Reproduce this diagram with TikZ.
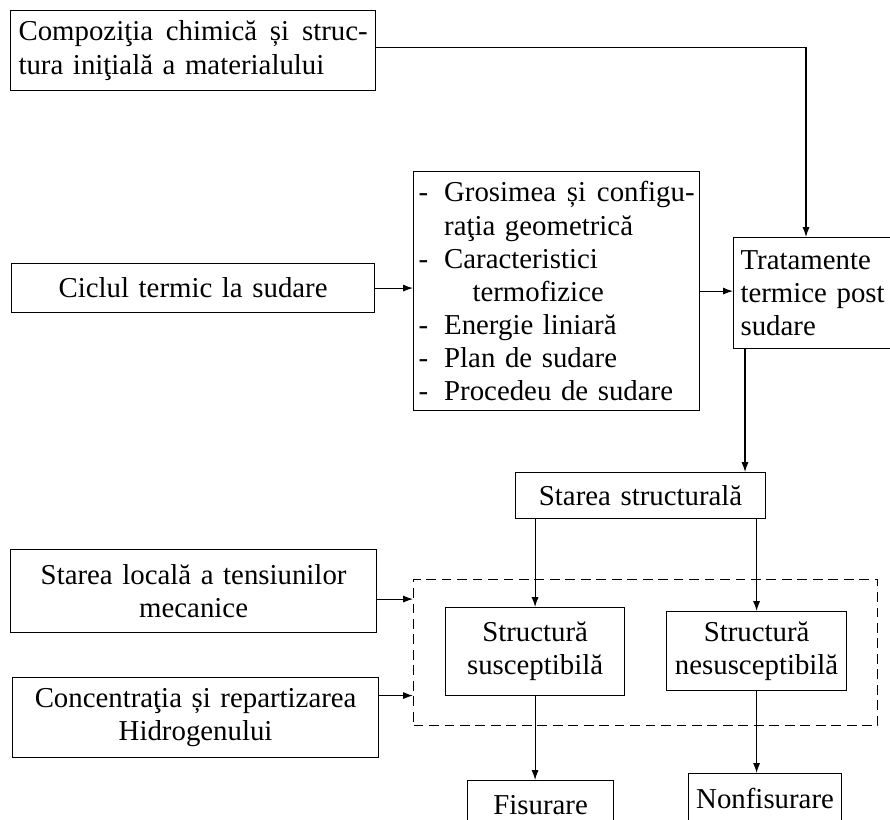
\documentclass[tikz,border=0pt]{standalone}
\usepackage{fontspec}
\setmainfont{Liberation Serif}
\usepackage{tikz}
\usetikzlibrary{positioning, arrows.meta}

\newcommand{\boxfont}{\fontsize{20.5}{23.5}\selectfont\spaceskip=0.6em plus 0.3em minus 0.1em}
\newcommand{\liniuta}{-\hspace{0.4cm}}

\begin{document}
\begin{tikzpicture}[
            x=0.025cm, y=-0.025cm,
            box/.style={draw, line width=0.8pt, rectangle, anchor=north west, inner xsep=0.15cm, inner ysep=0.1cm, font=\boxfont},
            arr/.style={-{Latex[length=7pt, width=5pt]}, line width=0.8pt},
        ]
            \useasboundingbox (0,0) rectangle (890,820);
            \clip (0,0) rectangle (890,820);
            % factori de intrare
            \node[box, inner xsep=0.2cm, text width=8.725cm, minimum height=2cm, align=left] (compozitie) at (10,10)
                {Compoziţia\hfill chimică\hfill și\hfill struc-\\ tura iniţială a materialului};
            \node[box, text width=8.775cm, minimum height=1.225cm, align=center] (ciclul) at (11,263)
                {Ciclul termic la sudare};
            \node[box, inner xsep=0.125cm, text width=6.9cm, minimum height=5.975cm, align=left] (factori) at (413,171)
                {\liniuta Grosimea\hfill și\hfill configu-\\
                 \hspace*{0.64cm}raţia geometrică\\
                 \liniuta Caracteristici\\
                 \hspace*{1.35cm}termofizice\\
                 \liniuta Energie liniară\\
                 \liniuta Plan de sudare\\
                 \liniuta Procedeu de sudare};
            \node[box, inner xsep=0.175cm, text width=4cm, minimum height=2.775cm, align=left] (tratament) at (733,237)
                {Tratamente\\ termice post\\ sudare};
            \node[box, text width=5.95cm, minimum height=1.15cm, align=center] (stare) at (515,472)
                {Starea structurală};
            % zona structurilor
            \node[draw, dashed, dash pattern=on 7pt off 4pt, line width=0.8pt, anchor=north west, inner sep=0pt,
                minimum width=11.6cm, minimum height=3.65cm] (grup) at (413,579) {};
            \node[box, text width=4.175cm, minimum height=2.2cm, align=center] (susc) at (445,607)
                {Structură\\ susceptibilă};
            \node[box, text width=4.2cm, minimum height=1.975cm, align=center] (nesusc) at (666,611)
                {Structură\\ nesusceptibilă};
            \node[box, text width=8.85cm, minimum height=2.075cm, align=center] (locala) at (10,549)
                {Starea locală a tensiunilor\\ mecanice};
            \node[box, text width=8.85cm, minimum height=2cm, align=center] (hidrogen) at (12,677)
                {Concentraţia și repartizarea\\ Hidrogenului};
            % rezultat
            \node[box, text width=3.35cm, minimum height=1.25cm, align=center] (fisurare) at (467,780)
                {Fisurare};
            \node[box, text width=3.525cm, minimum height=1.25cm, align=center] (nefisurare) at (688,773)
                {Nonfisurare};

            \draw[arr] ([yshift=0.07cm]compozitie.east) -| ([xshift=1.825cm]tratament.north west);
            \draw[arr] (ciclul.east) -- (ciclul.east -| factori.west);
            \draw[arr] (factori.east) -- (factori.east -| tratament.west);
            \draw[arr] ([xshift=0.3cm]tratament.south west) -- ([xshift=0.3cm]tratament.south west |- stare.north);
            \draw[arr] (susc.north |- stare.south) -- (susc.north);
            \draw[arr] (nesusc.north |- stare.south) -- (nesusc.north);
            \draw[arr] ([yshift=-0.2cm]locala.east) -- ([yshift=-0.2cm]locala.east -| grup.west);
            \draw[arr] ([yshift=0.55cm]hidrogen.east) -- ([yshift=0.55cm]hidrogen.east -| grup.west);
            \draw[arr] (susc.south) -- (susc.south |- fisurare.north);
            \draw[arr] (nesusc.south) -- (nesusc.south |- nefisurare.north);
        \end{tikzpicture}
\end{document}
